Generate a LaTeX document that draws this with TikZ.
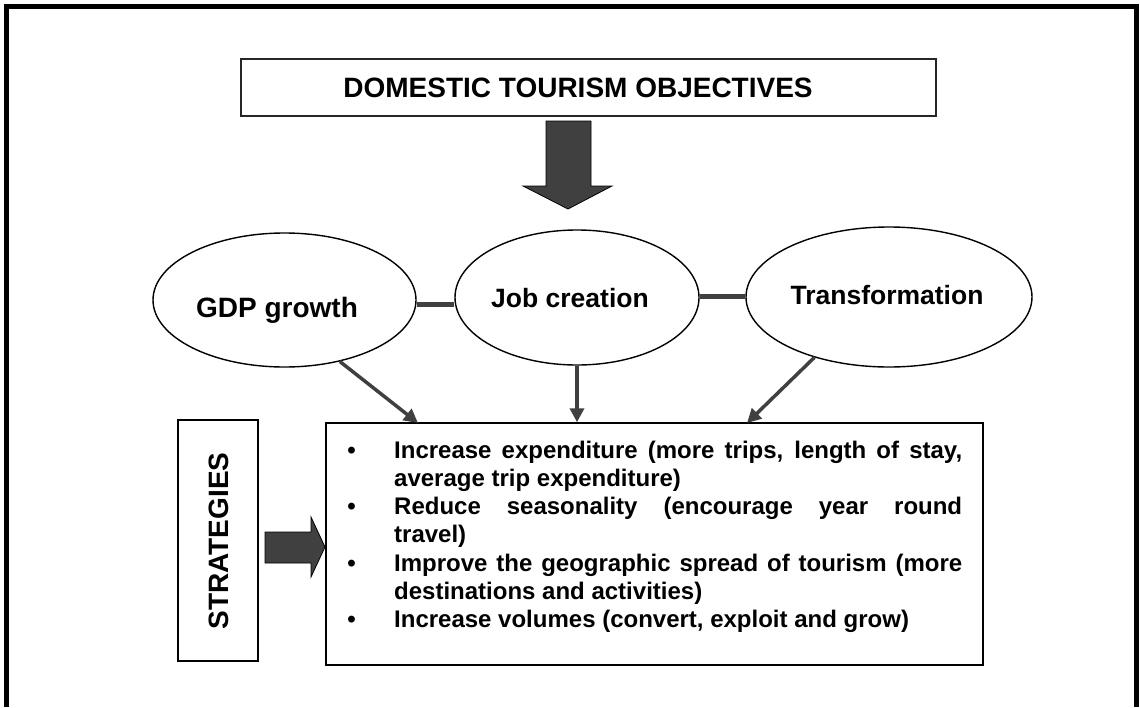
\documentclass[tikz,border=0pt]{standalone}
\usepackage{fontspec}
\setmainfont{Liberation Sans}
\usetikzlibrary{arrows.meta,shapes.geometric}
\definecolor{dk}{HTML}{404040}
\newcommand\bitem{\leavevmode\llap{\textbullet\hspace{38.5pt}}}
\begin{document}
\begin{tikzpicture}[x=1pt,y=-1pt,
  frame/.style={line width=5pt,black},
  ell/.style={draw=black,line width=1.4pt,ellipse,inner sep=0pt,fill=white},
  lbl/.style={font=\bfseries\fontsize{28}{32}\selectfont,anchor=base,inner sep=0pt},
  lbls/.style={font=\bfseries\fontsize{26.5}{30}\selectfont,anchor=base,inner sep=0pt},
  bar/.style={line width=5pt,draw=dk},
  conn/.style={line width=3.5pt,draw=dk,-{Triangle[length=14pt,width=14pt]}},
  bigarrow/.style={fill=dk,draw=black,line width=0.8pt},
  box/.style={draw=black,line width=1.5pt,inner sep=0pt}]
\useasboundingbox (0,0) rectangle (1140,707);
% outer frame
\draw[frame] (6,707) -- (6,6) -- (1136,6) -- (1136,707);
% title
\node[box,draw=black!85,line width=1.8pt,minimum width=695pt,minimum height=57pt] (title) at (588.5,87.5) {};
\node[lbl] (titlet) at (578,97) {DOMESTIC TOURISM OBJECTIVES};
% down block arrow
\draw[bigarrow] (546,121) -- (591,121) -- (591,186) -- (612,186) -- (568,209) -- (523,186) -- (546,186) -- cycle;
% ellipses
\node[ell,minimum width=263pt,minimum height=134pt] (gdp) at (284.5,300) {};
\node[ell,minimum width=244pt,minimum height=135pt] (job) at (577,297.5) {};
\node[ell,minimum width=286pt,minimum height=140pt] (trans) at (889,297) {};
\node[lbl] (gdpt) at (277,317) {GDP growth};
\node[lbls] (jobt) at (570,307.5) {Job creation};
\node[lbls] (transt) at (887,304.5) {Transformation};
% bars between ellipses
\draw[bar] ([yshift=-4pt]gdp.east) -- ([yshift=-6.5pt]job.west);
\draw[bar] ([yshift=1.5pt]job.east) -- ([yshift=1pt]trans.west);
% main box
\node[box,minimum width=657pt,minimum height=242pt] (main) at (654.5,544) {};
\coordinate (ga) at (418,423);
\coordinate (ta) at (747,423);
\draw[conn] (gdp.-48) -- (ga);
\draw[conn] (job.south) -- (job.south |- main.north);
\draw[conn] (trans.-141) -- (ta);
% strategies
\node[box,line width=1.2pt,minimum width=80pt,minimum height=241pt] (strat) at (218,540.5) {};
\node[lbl,rotate=90] (stratt) at (228,541) {STRATEGIES};
\draw[bigarrow] (265,532) -- (311,532) -- (311,517) -- (325,547) -- (311,577) -- (311,563) -- (265,563) -- cycle;
% list
\node[anchor=north west,inner sep=0pt,text width=568pt,align=justify,
      font=\bfseries\fontsize{24}{28.2}\selectfont] (list) at (394,438.3)
{\parindent=0pt\strut\bitem Increase expenditure (more trips, length of stay,\linebreak average trip expenditure)\par
\bitem Reduce seasonality (encourage year round\linebreak travel)\par
\bitem Improve the geographic spread of tourism (more\linebreak destinations and activities)\par
\bitem Increase volumes (convert, exploit and grow)\par};
\end{tikzpicture}
\end{document}
